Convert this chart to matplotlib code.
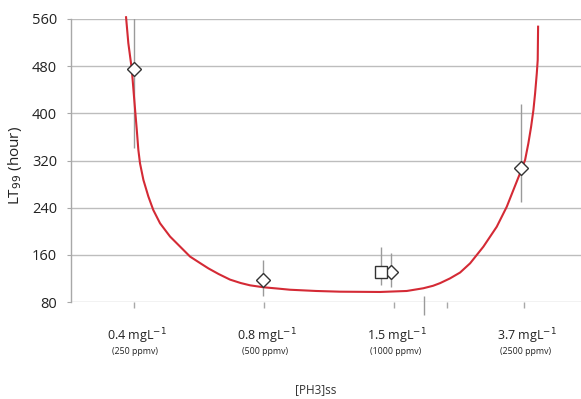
import matplotlib
matplotlib.use("Agg")
import matplotlib.pyplot as plt
import matplotlib.transforms as mtransforms

plt.rcParams['font.family'] = ['Open Sans', 'DejaVu Sans']

# ---- data ----
categories = ["0.4 mgL$^{-1}$", "0.8 mgL$^{-1}$", "1.5 mgL$^{-1}$", "3.7 mgL$^{-1}$"]
sublabels = ["(250 ppmv)", "(500 ppmv)", "(1000 ppmv)", "(2500 ppmv)"]
cat_pos = [0, 1, 2, 3]

diamond_x = [0.0, 0.99, 1.98, 2.975]
diamond_y = [475, 117, 131, 307]
diamond_lo = [341, 90, 105, 250]
diamond_hi = [575, 151, 163, 416]

square_x = [1.9]
square_y = [131]
square_lo = [109]
square_hi = [173]

stray_x = [2.23]
stray_lo = [58]
stray_hi = [90]

curve_x = [-0.0615, -0.044, -0.018, 0.008, 0.021, 0.033, 0.046, 0.072, 0.110, 0.148,
           0.2, 0.277, 0.354, 0.431, 0.508, 0.572, 0.65, 0.738, 0.82, 0.892,
           0.995, 1.1, 1.2, 1.4, 1.585, 1.892, 2.098, 2.225, 2.3, 2.354,
           2.43, 2.508, 2.585, 2.687, 2.79, 2.867, 2.918, 2.969, 3.008, 3.033,
           3.054, 3.072, 3.085, 3.098, 3.105, 3.108]
curve_y = [563, 519, 476, 406, 372, 338, 315, 287, 259, 236,
           213.5, 191, 174, 157, 146, 137, 127.5, 118, 112.2, 108.3,
           105, 102.9, 100.8, 98.7, 97.5, 97, 98.7, 103.3, 107.5, 112,
           120, 130, 145.6, 173.8, 207.7, 241.6, 270, 298.3, 321, 349,
           377, 405.7, 434, 468, 490.5, 547]

yticks = [80, 160, 240, 320, 400, 480, 560]

# ---- figure ----
fig = plt.figure(figsize=(5.81, 3.99), dpi=100)
ax = fig.add_axes([71/581, 97/399, 510/581, 283/399])
ax.set_xlim(-0.485, 3.438)
ax.set_ylim(80, 560)

grid_c = '#bdbdbd'
for yv in yticks:
    ax.axhline(yv, color=grid_c, lw=1.0, zorder=0)

for s in ['top', 'right', 'bottom']:
    ax.spines[s].set_visible(False)
ax.spines['left'].set_color('#a8a8a8')
ax.spines['left'].set_linewidth(1.0)

ax.set_yticks(yticks)
ax.set_yticklabels([str(v) for v in yticks], fontsize=10.5, color='#222222')
ax.tick_params(axis='y', length=3, color='#a8a8a8', pad=7)

ax.set_xticks(cat_pos + [2.41])
ax.set_xticklabels([''] * 5)
ax.tick_params(axis='x', length=4, color='#a8a8a8', width=1.0)

# error bars
ax.vlines(diamond_x, diamond_lo, diamond_hi, color='#9a9a9a', lw=1.0, zorder=2, clip_on=True)
ax.vlines(square_x, square_lo, square_hi, color='#9a9a9a', lw=1.0, zorder=2)
ax.vlines(stray_x, stray_lo, stray_hi, color='#9a9a9a', lw=1.0, zorder=2, clip_on=False)

# curve
ax.plot(curve_x, curve_y, color='#d42a35', lw=1.5, zorder=3, clip_on=False,
        solid_joinstyle='round', antialiased=True)

# markers
ax.plot(diamond_x, diamond_y, linestyle='none', marker='D', markersize=7,
        markerfacecolor='white', markeredgecolor='#333333', markeredgewidth=1.0, zorder=4)
ax.plot(square_x, square_y, linestyle='none', marker='s', markersize=8,
        markerfacecolor='white', markeredgecolor='#333333', markeredgewidth=1.0, zorder=4)

# category labels
trans = mtransforms.blended_transform_factory(ax.transData, ax.transAxes)
for xp, lab, sub in zip(cat_pos, categories, sublabels):
    ax.text(xp + 0.02, -0.12, lab, transform=trans, ha='center', va='center', fontsize=9, color='#222222')
    ax.text(xp + 0.01, -0.175, sub, transform=trans, ha='center', va='center', fontsize=6.3, color='#222222')

fig.text(316/581, 1 - 390/399, "[PH3]ss", ha='center', va='center', fontsize=8.5, color='#333333')
fig.text(15/581, 1 - 165/399, "LT$_{99}$ (hour)", ha='center', va='center', rotation=90,
         fontsize=11, color='#222222')

fig.savefig("out.png", dpi=100)
